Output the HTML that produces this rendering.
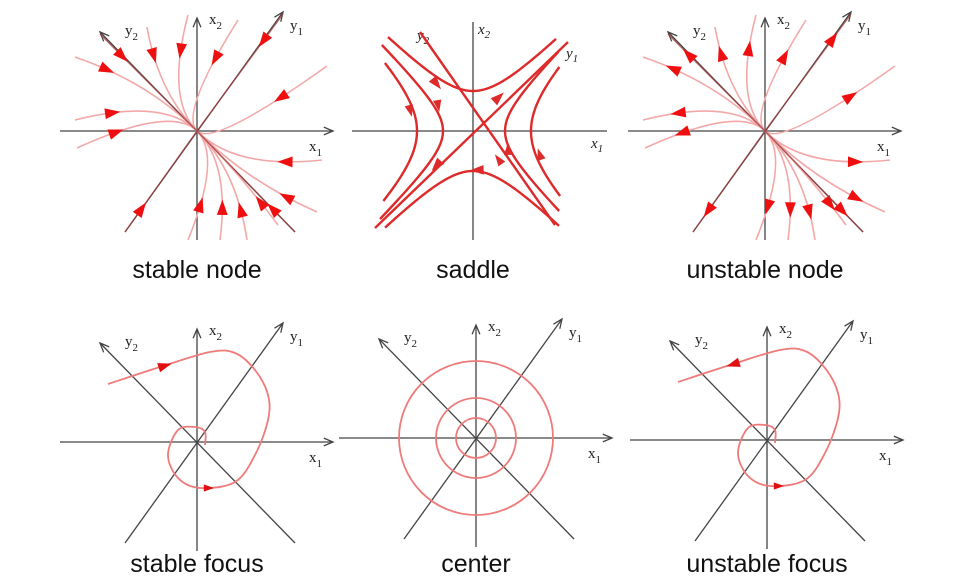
<!DOCTYPE html>
<html><head><meta charset="utf-8"><style>
html,body{margin:0;padding:0;background:#fff;width:958px;height:586px;overflow:hidden}
svg{display:block}
text{font-family:"Liberation Sans",sans-serif}
.lab{font-size:25px;fill:#111;text-anchor:middle}
.ax{font-family:"Liberation Serif",serif;font-size:15px;fill:#222}
</style></head><body>
<svg id="s" width="958" height="586" viewBox="0 0 958 586" xmlns="http://www.w3.org/2000/svg">
<text class="lab" x="197" y="278">stable node</text>
<text class="lab" x="473" y="278">saddle</text>
<text class="lab" x="765" y="278">unstable node</text>
<text class="lab" x="197" y="572">stable focus</text>
<text class="lab" x="476" y="572">center</text>
<text class="lab" x="767" y="572">unstable focus</text>
</svg>
<script>
var s=document.getElementById('s'),NS='http://www.w3.org/2000/svg';
function el(t,a){var e=document.createElementNS(NS,t);for(var k in a)e.setAttribute(k,a[k]);s.appendChild(e);return e;}
function line(x1,y1,x2,y2,c,w){el('line',{x1:x1,y1:y1,x2:x2,y2:y2,stroke:c||'#444',"stroke-width":w||1.3});}
function arrowAx(x1,y1,x2,y2){line(x1,y1,x2,y2);var a=Math.atan2(y2-y1,x2-x1),L=10;
 el('polyline',{points:(x2-L*Math.cos(a-0.4))+','+(y2-L*Math.sin(a-0.4))+' '+x2+','+y2+' '+(x2-L*Math.cos(a+0.4))+','+(y2-L*Math.sin(a+0.4)),fill:'none',stroke:'#444','stroke-width':1.3});}
function tri(x,y,a,sz,c){var p=[[sz,0],[-sz*0.7,sz*0.6],[-sz*0.7,-sz*0.6]].map(function(q){return (x+q[0]*Math.cos(a)-q[1]*Math.sin(a))+','+(y+q[0]*Math.sin(a)+q[1]*Math.cos(a));}).join(' ');
 el('polygon',{points:p,fill:c||'#e00000'});}
function txt(x,y,t,sub,cls){var e=el('text',{x:x,y:y,class:cls||'ax'});e.textContent=t;var ts=document.createElementNS(NS,'tspan');ts.setAttribute('dy','5');ts.setAttribute('font-size','11');ts.textContent=sub;e.appendChild(ts);}
function axes(cx,cy){arrowAx(cx-137,cy,cx+136,cy);arrowAx(cx,cy+109,cx,cy-113);
 arrowAx(cx-72,cy+101,cx+86,cy-119);arrowAx(cx+98,cy+101,cx-97,cy-99);
 txt(cx-72,cy-96,'y','2');txt(cx+12,cy-107,'x','2');txt(cx+93,cy-101,'y','1');txt(cx+112,cy+20,'x','1');}
var starts=[[147,27],[188,15],[238,20],[327,66],[75,57],[75,120],[77,148],[322,160],[317,212],[278,225],[247,240],[220,240],[188,240],[283,14],[125,232],[100,34],[295,232]];
function node(cx,rev){axes(cx,131);
 starts.forEach(function(p,i){var sx=p[0]-197+cx,sy=p[1];var dx=sx-cx,dy=sy-131;
  var straight=i>=13;
  var c=(dx+dy)/Math.SQRT2;
  var qx=cx+0.5*c*0.707, qy=131+0.5*c*0.707;
  if(straight){qx=(sx+cx)/2;qy=(sy+131)/2;}
  el('path',{d:'M'+sx+','+sy+' Q'+qx+','+qy+' '+cx+',131',fill:'none',stroke:straight?'#a04040':'#f3a8a8','stroke-width':straight?1.4:1.6,opacity:straight?0.8:1});
  var t=0.22,bx=(1-t)*(1-t)*sx+2*t*(1-t)*qx+t*t*cx,by=(1-t)*(1-t)*sy+2*t*(1-t)*qy+t*t*131;
  var tx=2*(1-t)*(qx-sx)+2*t*(cx-qx),ty=2*(1-t)*(qy-sy)+2*t*(131-qy);var a=Math.atan2(ty,tx);if(rev)a+=Math.PI;
  tri(bx,by,a,9,'#ee1010');});}
node(197,false);node(765,true);
(function(){var cx=473,cy=131;line(352,cy,607,cy,'#444',1.3);line(cx,22,cx,240,'#444',1.3);
 function it(x,y,a,b){var e=el('text',{x:x,y:y,class:'ax','font-style':'italic'});e.textContent=a;var t=document.createElementNS(NS,'tspan');t.setAttribute('dy','4');t.setAttribute('font-size','11');t.textContent=b;e.appendChild(t);}
 it(478,34,'x','2');it(591,148,'x','1');it(566,58,'y','1');it(417,40,'y','2');
 var R='#dd2a2a';
 line(375,228,568,42,R,2.4);line(420,32,555,225,R,2.4);
 function hyp(a,vert,sign,ext){var pts=[];for(var u=-ext;u<=ext;u+=3){var v=Math.sqrt(a*a+u*u)*sign;pts.push(vert?[cx+u,cy-v]:[cx+v,cy-u]);}
  el('polyline',{points:pts.map(function(p){return p.join(',')}).join(' '),fill:'none',stroke:R,'stroke-width':2.4});}
 hyp(40,true,1,85);hyp(40,true,-1,88);hyp(32,false,1,80);hyp(58,false,1,65);hyp(30,false,-1,88);hyp(56,false,-1,70);
 tri(436,83,0.9,8,R);tri(410,110,1.3,7,R);tri(438,105,1.4,7,R);tri(498,98,-0.75,8,R);tri(437,165,2.3,8,R);tri(478,170,3.1,8,R);tri(508,150,-1.6,7,R);tri(540,155,-1.9,7,R);tri(499,160,-2.2,7,R);})();
function smooth(P){var d='M'+P[0][0]+','+P[0][1];for(var i=0;i<P.length-1;i++){var p0=P[i-1]||P[i],p1=P[i],p2=P[i+1],p3=P[i+2]||p2;
 d+=' C'+(p1[0]+(p2[0]-p0[0])/6)+','+(p1[1]+(p2[1]-p0[1])/6)+' '+(p2[0]-(p3[0]-p1[0])/6)+','+(p2[1]-(p3[1]-p1[1])/6)+' '+p2[0]+','+p2[1];}return d;}
function focus(dx,dy,rev){var cx=197+dx,cy=442+dy;axes(cx,cy);
 var P=[[108,384],[160,367],[210,352],[235,353],[255,370],[268,395],[268,420],[255,455],[235,482],[200,488],[178,478],[168,455],[178,430],[195,427],[205,432],[205,445]].map(function(p){return [p[0]+dx,p[1]+dy];});
 el('path',{d:smooth(P),fill:'none',stroke:'#ee7a7a','stroke-width':1.8});
 tri(164+dx,366+dy,rev?Math.PI-0.3:-0.3,8,'#e01010');tri(208+dx,488+dy,0,6,'#e01010');}
focus(0,0,false);focus(570,-2,true);
(function(){var cx=476,cy=438;axes(cx,cy);[77,40,20].forEach(function(r){el('circle',{cx:cx,cy:cy,r:r,fill:'none',stroke:'#ee7a7a','stroke-width':1.8});});})();
</script>
</body></html>
